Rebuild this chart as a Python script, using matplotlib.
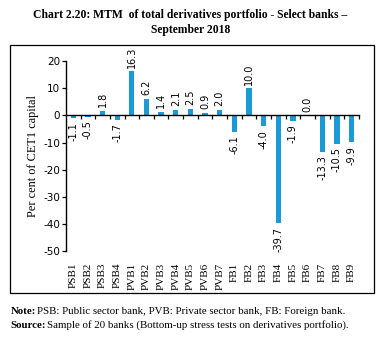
import numpy as np
import matplotlib.pyplot as plt
from matplotlib.patches import Rectangle

# MTM as per cent of CET1 capital, Sept 2018
banks = ['PSB1', 'PSB2', 'PSB3', 'PSB4', 'PVB1', 'PVB2', 'PVB3', 'PVB4', 'PVB5', 'PVB6',
         'PVB7', 'FB1', 'FB2', 'FB3', 'FB4', 'FB5', 'FB6', 'FB7', 'FB8', 'FB9']
mtm = [-1.1, -0.5, 1.8, -1.7, 16.3, 6.2, 1.4, 2.1, 2.5, 0.9,
       2.0, -6.1, 10.0, -4.0, -39.7, -1.9, 0.0, -13.3, -10.5, -9.9]
yticks = [20, 10, 0, -10, -20, -30, -40, -50]

serif = 'Liberation Serif'
sans = 'DejaVu Sans'
blue = '#1a9ad6'

fig = plt.figure(figsize=(3.81, 3.38), dpi=100)
ax = fig.add_axes([0.173, 0.257, 0.769, 0.562])

x = np.arange(len(banks))
ax.bar(x, mtm, width=0.36, color=blue, zorder=2)

for xi, v in zip(x, mtm):
    if v >= 0:
        ax.text(xi, v + 1.3, f'{v:.1f}', rotation=90, ha='center', va='bottom',
                fontsize=7, family=sans)
    else:
        ax.text(xi, v - 1.3, f'{v:.1f}', rotation=90, ha='center', va='top',
                fontsize=7, family=sans)

ax.set_xlim(-0.5, 19.45)
ax.set_ylim(-50, 20)
ax.set_yticks(yticks)
ax.set_yticklabels([str(t) for t in yticks], family=sans, fontsize=7.5)
ax.tick_params(axis='y', length=3, width=0.9, pad=1)

ax.spines['top'].set_visible(False)
ax.spines['right'].set_visible(False)
ax.spines['left'].set_linewidth(1.0)
ax.spines['bottom'].set_position(('data', 0))
ax.spines['bottom'].set_linewidth(1.0)
ax.set_xticks(x + 0.5)
ax.set_xticklabels([])
ax.tick_params(axis='x', length=3, width=0.9, direction='out')

# category names sit under the plot area, not at the zero line
for xi, b in zip(x, banks):
    ax.text(xi, -0.06, b, transform=ax.get_xaxis_transform(), rotation=90,
            ha='center', va='top', fontsize=8, family=serif)

ax.set_ylabel('Per cent of CET1 capital', family=serif, fontsize=8.8, labelpad=3)

fig.text(0.5, 0.955, 'Chart 2.20: MTM  of total derivatives portfolio - Select banks \u2013',
         ha='center', va='center', fontsize=8.4, family=serif, weight='bold')
fig.text(0.5, 0.91, 'September 2018', ha='center', va='center', fontsize=8.4,
         family=serif, weight='bold')

fig.add_artist(Rectangle((10 / 381, 1 - 293 / 338), 364 / 381, 248 / 338,
                         transform=fig.transFigure, fill=False, lw=0.9, ec='black'))


def note_line(y, head, body):
    # bold lead word followed by regular text on the same line
    t = fig.text(0.027, y, head, ha='left', va='center', fontsize=7.8,
                 family=serif, weight='bold')
    fig.canvas.draw()
    bb = t.get_window_extent().transformed(fig.transFigure.inverted())
    fig.text(bb.x1 + 0.004, y, body, ha='left', va='center', fontsize=7.8, family=serif)


note_line(0.077, 'Note:', 'PSB: Public sector bank, PVB: Private sector bank, FB: Foreign bank.')
note_line(0.038, 'Source:', 'Sample of 20 banks (Bottom-up stress tests on derivatives portfolio).')

fig.savefig('out.png', dpi=100)
